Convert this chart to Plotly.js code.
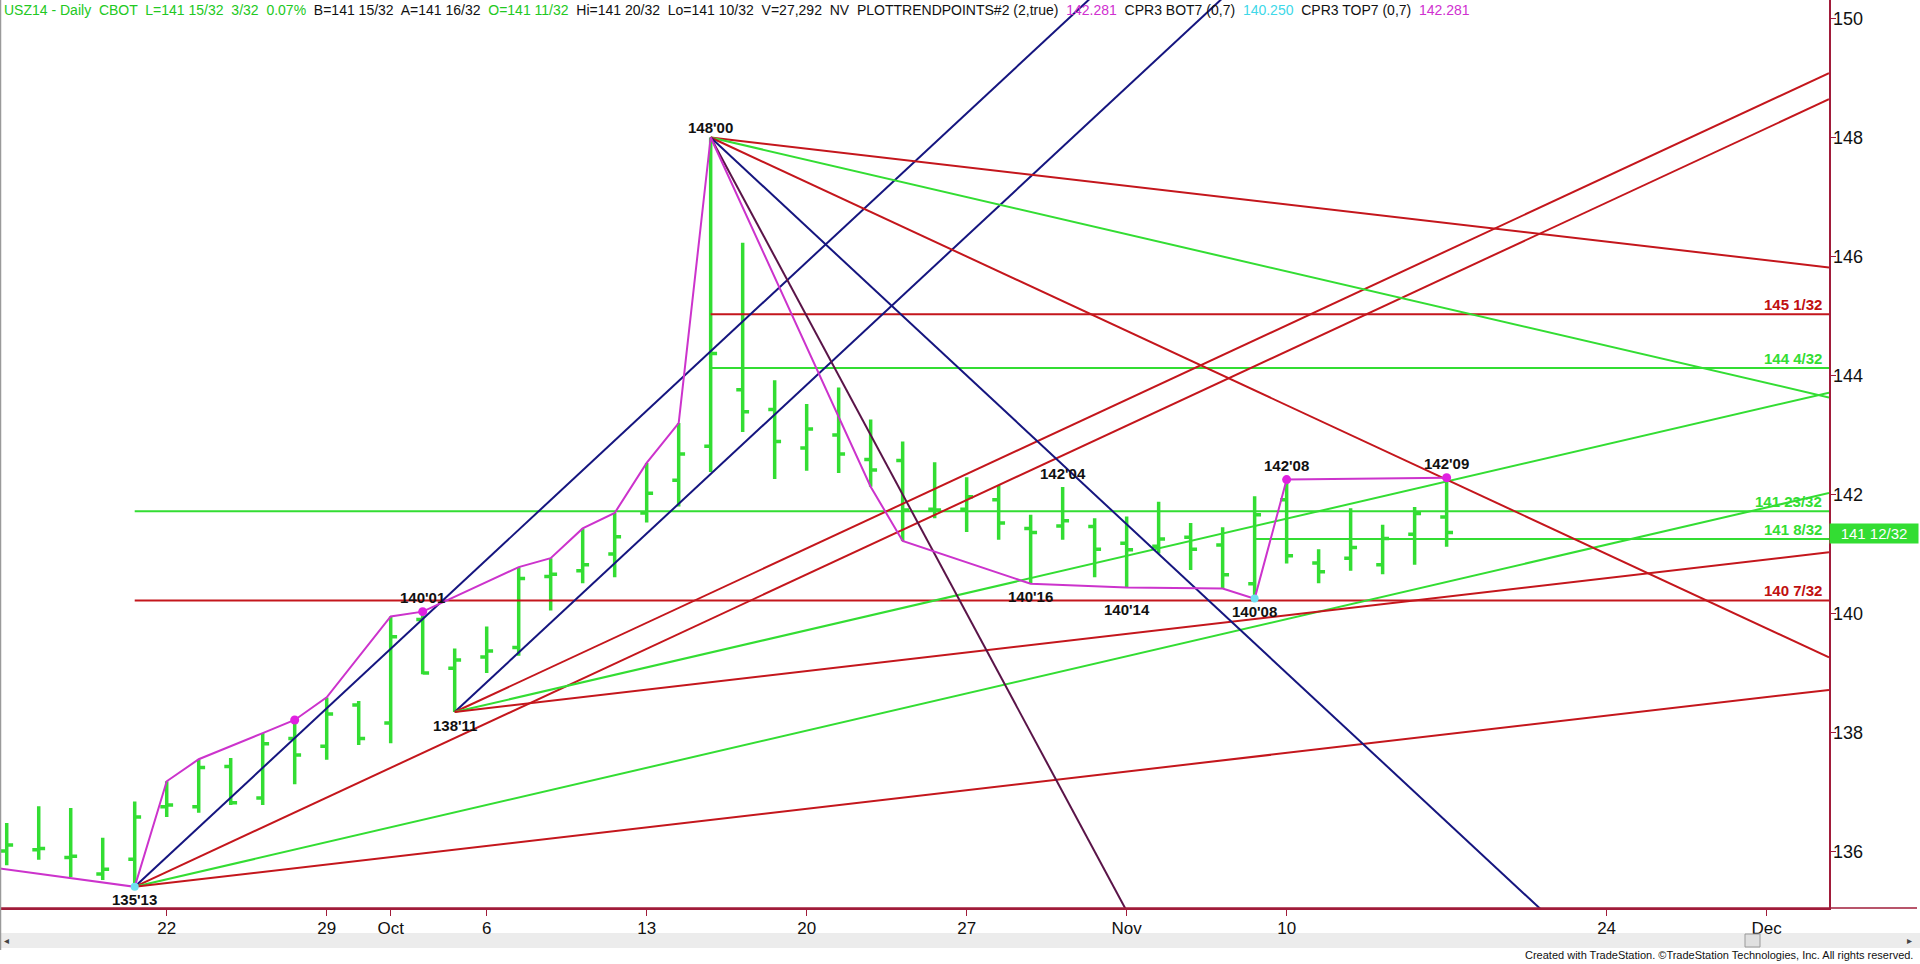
<!DOCTYPE html>
<html>
<head>
<meta charset="utf-8">
<script src="https://cdn.plot.ly/plotly-3.0.1.min.js"></script>
<style>
  html, body { margin: 0; padding: 0; background: #ffffff; overflow: hidden; }
  #chart { width: 1920px; height: 964px; }
</style>
</head>
<body>
<div id="chart"></div>
<script>
// ---------------- DATA ----------------
// Trading days with bars (USZ14 daily)
const dates = [
  "2014-09-15","2014-09-16","2014-09-17","2014-09-18","2014-09-19",
  "2014-09-22","2014-09-23","2014-09-24","2014-09-25","2014-09-26",
  "2014-09-29","2014-09-30","2014-10-01","2014-10-02","2014-10-03",
  "2014-10-06","2014-10-07","2014-10-08","2014-10-09","2014-10-10",
  "2014-10-13","2014-10-14","2014-10-15","2014-10-16","2014-10-17",
  "2014-10-20","2014-10-21","2014-10-22","2014-10-23","2014-10-24",
  "2014-10-27","2014-10-28","2014-10-29","2014-10-30","2014-10-31",
  "2014-11-03","2014-11-04","2014-11-05","2014-11-06","2014-11-07",
  "2014-11-10","2014-11-11","2014-11-12","2014-11-13","2014-11-14",
  "2014-11-17"
];
// Future (empty) bar slots shown on the axis
const futureDates = [
  "2014-11-18","2014-11-19","2014-11-20","2014-11-21",
  "2014-11-24","2014-11-25","2014-11-26","2014-11-27","2014-11-28",
  "2014-12-01","2014-12-02","2014-12-03","2014-12-04","2014-12-05"
];
const openP = [
  136.01,136.03,135.90,135.62,135.87, 136.75,136.75,137.43,136.90,137.90,
  137.77,138.46,138.16,139.90,139.08, 139.27,139.43,140.62,140.72,141.00,
  141.69,142.24,142.81,143.76,143.43, 142.78,143.00,142.59,142.57,141.75,
  141.75,141.91,141.43,141.47,141.46, 141.18,141.13,141.28,141.15,140.50,
  141.91,140.85,140.93,140.82,141.33, 141.62
];
const highP = [
  136.48,136.76,136.73,136.23,136.84, 137.18,137.55,137.57,137.99,138.21,
  138.59,138.53,139.95,140.03125,139.41, 139.78,140.78,140.93,141.43,141.69,
  142.53,143.20,148.00,146.23,143.92, 143.52,143.80,143.26,142.89,142.54,
  142.29,142.16,141.66,142.125,141.60, 141.63,141.88,141.52,141.45,141.97,
  142.25,141.08,141.77,141.49,141.79, 142.28125
];
const lowP = [
  135.77,135.86,135.57,135.52,135.40625, 136.58,136.65,136.78,136.78,137.13,
  137.54,137.79,137.82,138.98,138.34375, 139.00,139.29,140.05,140.51,140.61,
  141.53,141.80,142.38,143.05,142.26, 142.40,142.36,142.13,141.22,141.60,
  141.37,141.24,140.50,141.24,140.61, 140.4375,141.01,140.73,140.42,140.25,
  140.84,140.51,140.72,140.66,140.82, 141.12
];
const closeP = [
  136.11,136.05,135.92,135.70,136.58, 136.78,137.41,136.82,137.81,137.62,
  138.31,137.90,139.61,139.00,139.22, 139.37,140.59,140.66,140.82,141.29,
  142.02,142.68,144.37,143.39,142.89, 143.10,142.68,142.41,141.74,141.74,
  141.96,141.52,141.36,141.56,141.08, 141.07,141.25,141.08,140.65,141.66,
  140.97,140.70,141.11,141.26,141.68, 141.36
];

// Swing (trend point) line
const swingDates = [
  "2014-09-12","2014-09-19","2014-09-22","2014-09-23","2014-09-25","2014-09-26",
  "2014-09-29","2014-10-01","2014-10-02","2014-10-07","2014-10-08","2014-10-09",
  "2014-10-10","2014-10-13","2014-10-14","2014-10-15","2014-10-22","2014-10-23",
  "2014-10-29","2014-11-03","2014-11-06","2014-11-07","2014-11-10","2014-11-17"
];
const swingPrices = [
  135.77,135.40625,137.18,137.55,137.99,138.21,
  138.59,139.95,140.03125,140.78,140.93,141.43,
  141.69,142.53,143.20,148.00,142.13,141.22,
  140.50,140.4375,140.42,140.25,142.25,142.28125
];
const swingHighDotDates = ["2014-09-26","2014-10-02","2014-11-10","2014-11-17"];
const swingHighDotPrices = [138.21,140.03125,142.25,142.28125];
const swingLowDotDates = ["2014-09-19","2014-11-07"];
const swingLowDotPrices = [135.40625,140.25];

// Labelled pivots
const pivotDates  = ["2014-09-19","2014-10-03","2014-10-02","2014-10-15","2014-10-30","2014-10-29","2014-11-03","2014-11-07","2014-11-10","2014-11-17"];
const pivotPrices = [135.40625,138.34375,140.03125,148.00,142.125,140.50,140.4375,140.25,142.25,142.28125];
const pivotSide   = ["below","below","above","above","above","below","below","below","above","above"];

// Angle fans: anchor, anchor price, slopes (points per bar)
const fanUpAnchors = ["2014-09-19","2014-10-03"];
const fanUpPrices  = [135.40625,138.34375];
const fanUpSlopes  = [0.5,0.25,0.125,0.0625];
const fanDownAnchor = "2014-10-15";
const fanDownPrice  = 148.00;
const fanDownSlopes = [-0.0625,-0.125,-0.25,-0.5,-1.0];

// Horizontal levels
const levelPrices = [145 + 1/32, 144 + 4/32, 141 + 23/32, 141 + 8/32, 140 + 7/32];
const levelStart  = ["2014-10-15","2014-10-15","2014-09-19","2014-11-07","2014-09-19"];
const levelKind   = ["red","green","green","green","red"];

// Axis ticks
const tickDates  = ["2014-09-22","2014-09-29","2014-10-01","2014-10-06","2014-10-13","2014-10-20","2014-10-27","2014-11-03","2014-11-10","2014-11-24","2014-12-01"];
const tickLabels = ["22","29","Oct","6","13","20","27","Nov","10","24","Dec"];
const priceTicks = [136,138,140,142,144,146,148,150];
const lastPriceLabel = "141 12/32";
const lastPriceValue = 141.35;

// ---------------- BUILD ----------------
const allDays = dates.concat(futureDates);
const idx = d => {
  const k = allDays.indexOf(d);
  if (k >= 0) return k;
  return -1; // day before the first bar
};
const X0 = -0.21, X1 = 56.95;
const Y0 = 135.05, Y1 = 150.311;

const GREEN = "#33dd33", RED = "#c4161c", BLUE = "#15157f", PURPLE = "#5a1448", MAG = "#cc33cc", AXIS = "#a11c3a";
const upColors = [BLUE, RED, GREEN, RED];
const downColors = [RED, GREEN, RED, BLUE, PURPLE];

const traces = [];
traces.push({
  type: "ohlc",
  x: dates.map(idx), open: openP, high: highP, low: lowP, close: closeP,
  increasing: { line: { color: GREEN, width: 3.5 } },
  decreasing: { line: { color: GREEN, width: 3.5 } },
  tickwidth: 0.2, hoverinfo: "skip", showlegend: false
});

// horizontal levels
levelPrices.forEach((p, k) => {
  traces.push({
    type: "scatter", mode: "lines",
    x: [idx(levelStart[k]), X1], y: [p, p],
    line: { color: levelKind[k] === "red" ? RED : GREEN, width: 2 },
    hoverinfo: "skip", showlegend: false
  });
});

// up fans
fanUpAnchors.forEach((a, j) => {
  const x0 = idx(a), p0 = fanUpPrices[j];
  fanUpSlopes.forEach((s, k) => {
    traces.push({
      type: "scatter", mode: "lines",
      x: [x0, X1], y: [p0, p0 + s * (X1 - x0)],
      line: { color: upColors[k], width: 2 },
      hoverinfo: "skip", showlegend: false
    });
  });
});
// down fan
{
  const x0 = idx(fanDownAnchor), p0 = fanDownPrice;
  fanDownSlopes.forEach((s, k) => {
    traces.push({
      type: "scatter", mode: "lines",
      x: [x0, X1], y: [p0, p0 + s * (X1 - x0)],
      line: { color: downColors[k], width: 2 },
      hoverinfo: "skip", showlegend: false
    });
  });
}

// swing line
traces.push({
  type: "scatter", mode: "lines",
  x: swingDates.map(idx), y: swingPrices,
  line: { color: MAG, width: 2 }, hoverinfo: "skip", showlegend: false
});
traces.push({
  type: "scatter", mode: "markers",
  x: swingHighDotDates.map(idx), y: swingHighDotPrices,
  marker: { color: "#e020e0", size: 9 }, hoverinfo: "skip", showlegend: false
});
traces.push({
  type: "scatter", mode: "markers",
  x: swingLowDotDates.map(idx), y: swingLowDotPrices,
  marker: { color: "#6fe0f0", size: 8 }, hoverinfo: "skip", showlegend: false
});

// ---- annotations ----
const fmtTick = p => {
  const w = Math.floor(p + 1e-9);
  const n = Math.round((p - w) * 32);
  return w + "'" + (n < 10 ? "0" + n : "" + n);
};
const fmtLevel = p => {
  const w = Math.floor(p + 1e-9);
  const n = Math.round((p - w) * 32);
  return w + " " + n + "/32";
};

const annotations = [];
const pivotShift = { above: 14, below: -13 };
const extraShift = { "2014-11-03": -9, "2014-10-15": -4 };
pivotDates.forEach((d, k) => {
  annotations.push({
    x: idx(d), y: pivotPrices[k], xref: "x", yref: "y",
    text: fmtTick(pivotPrices[k]), showarrow: false,
    yshift: pivotShift[pivotSide[k]] + (extraShift[d] || 0),
    xanchor: "center", yanchor: "middle",
    font: { family: "Liberation Sans, Arial, sans-serif", size: 15, color: "#111111", weight: 700 }
  });
});
levelPrices.forEach((p, k) => {
  annotations.push({
    x: 1, xref: "paper", y: p, yref: "y",
    text: "<b>" + fmtLevel(p) + "</b>", showarrow: false,
    xanchor: "right", yanchor: "bottom", xshift: -5, yshift: -1,
    font: { family: "Liberation Sans, Arial, sans-serif", size: 15, color: levelKind[k] === "red" ? "#c01010" : GREEN }
  });
});
// last price box
annotations.push({
  x: 1, xref: "paper", y: lastPriceValue, yref: "y",
  text: lastPriceLabel, showarrow: false, xanchor: "left", yanchor: "middle",
  width: 86, height: 17, bgcolor: GREEN, borderpad: 1, align: "center",
  font: { family: "Liberation Sans, Arial, sans-serif", size: 15, color: "#ffffff" }
});
// header
const G = c => '<span style="color:#22c822">' + c + '</span>';
const headerText =
  G("USZ14 - Daily  CBOT  L=141 15/32  3/32  0.07%") +
  "  B=141 15/32  A=141 16/32  " + G("O=141 11/32") +
  "  Hi=141 20/32  Lo=141 10/32  V=27,292  NV  PLOTTRENDPOINTS#2 (2,true)  " +
  '<span style="color:#d030d0">142.281</span>' + "  CPR3 BOT7 (0,7)  " +
  '<span style="color:#40d8e8">140.250</span>' + "  CPR3 TOP7 (0,7)  " +
  '<span style="color:#d030d0">142.281</span>';
annotations.push({
  x: 0, xref: "paper", y: 1, yref: "paper", xanchor: "left", yanchor: "top",
  xshift: 2, yshift: 0, text: headerText, showarrow: false, align: "left",
  font: { family: "Liberation Sans, Arial, sans-serif", size: 14, color: "#111111" }
});
// footer
const PW = 1829, PH = 908;
annotations.push({
  x: 1915 / PW, xref: "paper", y: 1 - 955 / PH, yref: "paper",
  xanchor: "right", yanchor: "middle", showarrow: false,
  text: "Created with TradeStation. \u00A9TradeStation Technologies, Inc. All rights reserved.",
  font: { family: "Liberation Sans Narrow, Arial Narrow, Liberation Sans, sans-serif", size: 11, color: "#111111" }
});
annotations.push({
  x: 6 / PW, xref: "paper", y: 1 - 940 / PH, yref: "paper", xanchor: "center", yanchor: "middle",
  showarrow: false, text: "\u25C2", font: { size: 10, color: "#444444" }
});
annotations.push({
  x: 1909 / PW, xref: "paper", y: 1 - 940 / PH, yref: "paper", xanchor: "center", yanchor: "middle",
  showarrow: false, text: "\u25B8", font: { size: 10, color: "#444444" }
});

const shapes = [
  // scrollbar band
  { type: "rect", xref: "paper", yref: "paper", x0: 0, x1: 1920 / PW, y0: 1 - 933 / PH, y1: 1 - 948 / PH,
    fillcolor: "#ececec", line: { width: 0 }, layer: "below" },
  { type: "rect", xref: "paper", yref: "paper", x0: 1745 / PW, x1: 1760 / PW, y0: 1 - 934 / PH, y1: 1 - 947 / PH,
    fillcolor: "#e0e0e0", line: { color: "#9a9a9a", width: 1 } },
  // x-axis line extending to the right edge
  { type: "line", xref: "paper", yref: "paper", x0: 0, x1: 1917 / PW, y0: 0, y1: 0,
    line: { color: AXIS, width: 1.5 } },
  // left border
  { type: "line", xref: "paper", yref: "paper", x0: 0.5 / PW, x1: 0.5 / PW, y0: 1, y1: 1 - 950 / PH,
    line: { color: "#9a9a9a", width: 1.5 } }
];

const layout = {
  width: 1920, height: 964,
  margin: { l: 0, r: 91, t: 0, b: 56, pad: 0 },
  paper_bgcolor: "#ffffff", plot_bgcolor: "#ffffff",
  showlegend: false, dragmode: false,
  xaxis: {
    type: "linear", range: [X0, X1], fixedrange: true,
    rangeslider: { visible: false },
    tickvals: tickDates.map(idx), ticktext: tickLabels,
    ticks: "outside", ticklen: 6, tickwidth: 1, tickcolor: AXIS,
    showline: true, linecolor: AXIS, linewidth: 1.5,
    showgrid: false, zeroline: false, ticklabelstandoff: -2,
    tickfont: { family: "Liberation Sans Narrow, Arial Narrow, Liberation Sans, sans-serif", size: 17, color: "#111111" }
  },
  yaxis: {
    type: "linear", range: [Y0, Y1], side: "right", fixedrange: true,
    tickvals: priceTicks, ticktext: priceTicks.map(String),
    ticks: "outside", ticklen: 5, tickwidth: 1, tickcolor: AXIS,
    showline: true, linecolor: AXIS, linewidth: 1.5,
    showgrid: false, zeroline: false, ticklabelstandoff: -6,
    tickfont: { family: "Liberation Sans, Arial, sans-serif", size: 18, color: "#111111" }
  },
  annotations: annotations,
  shapes: shapes
};

Plotly.newPlot("chart", traces, layout, { staticPlot: true, displayModeBar: false });
</script>
</body>
</html>
